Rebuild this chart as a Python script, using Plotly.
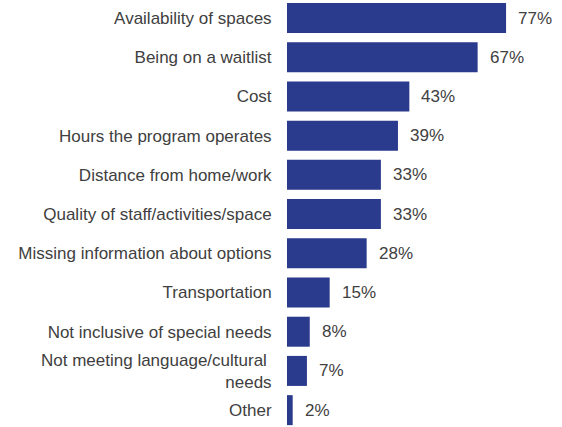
import plotly.graph_objects as go

categories = [
    "Availability of spaces",
    "Being on a waitlist",
    "Cost",
    "Hours the program operates",
    "Distance from home/work",
    "Quality of staff/activities/space",
    "Missing information about options",
    "Transportation",
    "Not inclusive of special needs",
    "Not meeting language/cultural <br>needs",
    "Other",
]
values = [77, 67, 43, 39, 33, 33, 28, 15, 8, 7, 2]
labels = [f"{v}%" for v in values]

BAR = "#2a3a8c"
TXT = "#404040"
FONT = "Liberation Sans, Arial, sans-serif"
FS = 17

fig = go.Figure(go.Bar(
    x=values, y=categories, orientation="h",
    marker=dict(color=BAR, line=dict(width=0)),
    hoverinfo="skip",
))

for c, v, t in zip(categories, values, labels):
    fig.add_annotation(x=v, y=c, text=t, showarrow=False, xanchor="left",
                       xshift=10, font=dict(size=FS, color=TXT, family=FONT))

fig.update_layout(
    width=562, height=427,
    margin=dict(l=287, r=0, t=0, b=0),
    paper_bgcolor="white", plot_bgcolor="white",
    bargap=0.235,
    showlegend=False,
    font=dict(family=FONT, size=FS, color=TXT),
    xaxis=dict(range=[0, 275 / 2.845], visible=False, fixedrange=True),
    yaxis=dict(range=[10.43, -0.459], showgrid=False, zeroline=False,
               showline=False, ticks="outside", ticklen=11,
               tickcolor="rgba(0,0,0,0)", tickfont=dict(size=FS, color=TXT, family=FONT),
               fixedrange=True),
)

fig.write_html("out.html", config={"displayModeBar": False},
               post_script="document.body.style.margin='0';document.body.style.overflow='hidden';")
